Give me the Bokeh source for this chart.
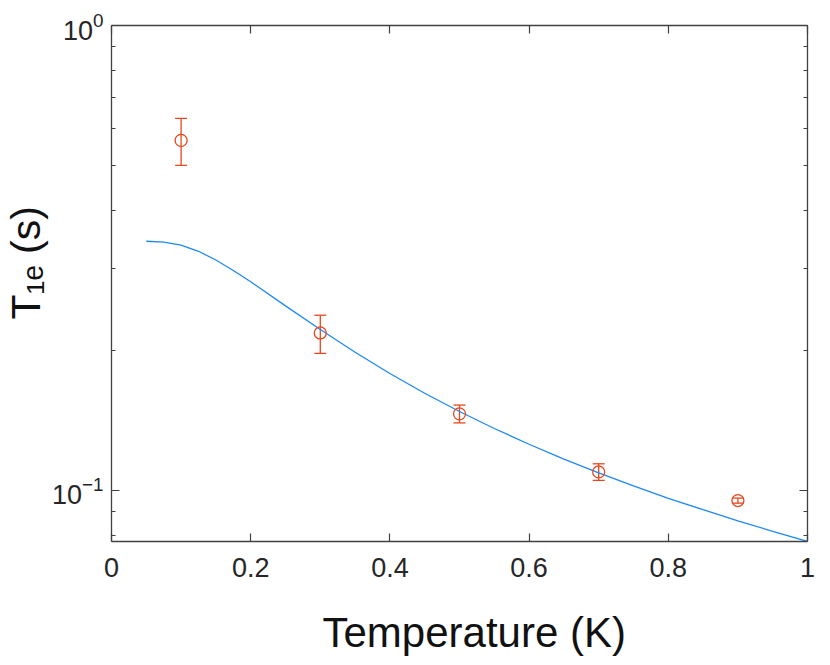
from bokeh.plotting import figure
from bokeh.models import (ColumnDataSource, Whisker, TeeHead, Title, LinearAxis, LogAxis,
                          FixedTicker, NumeralTickFormatter, CustomJSTickFormatter, LogTickFormatter)
from bokeh.embed import file_html
from bokeh.resources import INLINE

# measured data (temperature in K, T1e in s)
temp = [0.1, 0.3, 0.5, 0.7, 0.9]
t1e = [0.566, 0.218, 0.1460, 0.1095, 0.0950]
t1e_upper = [0.631, 0.238, 0.1525, 0.1140, 0.0962]
t1e_lower = [0.500, 0.197, 0.1396, 0.1050, 0.0938]

# model curve
curve_temp = [0.05, 0.075, 0.1, 0.125, 0.15, 0.175, 0.2, 0.25, 0.3, 0.35, 0.4, 0.45,
              0.5, 0.55, 0.6, 0.65, 0.7, 0.75, 0.8, 0.85, 0.9, 0.95, 1.0]
curve_t1e = [0.3434, 0.3420, 0.3367, 0.3267, 0.3129, 0.2971, 0.2809, 0.2493, 0.2217,
             0.1981, 0.1783, 0.1617, 0.1477, 0.1358, 0.1256, 0.1167, 0.1090, 0.1022,
             0.0961, 0.0908, 0.0859, 0.0816, 0.0776]

x_ticks = [0, 0.2, 0.4, 0.6, 0.8, 1.0]
y_ticks = [0.1, 1.0]
y_minor = [0.08, 0.09, 0.2, 0.3, 0.4, 0.5, 0.6, 0.7, 0.8, 0.9]

FONT = "Liberation Sans"
AX = "#404040"
RED = "#e8471e"
BLUE = "#1e88f5"

p = figure(frame_width=696, frame_height=516, x_range=(0, 1), y_range=(0.07757, 1.0),
           y_axis_type="log", output_backend="svg", toolbar_location=None,
           min_border_left=111, min_border_right=20, min_border_top=25, min_border_bottom=120)
p.xgrid.visible = False
p.ygrid.visible = False
p.outline_line_color = None
p.background_fill_color = "white"


def style(ax):
    ax.axis_line_color = AX
    ax.axis_line_width = 1.3
    ax.major_tick_line_color = AX
    ax.minor_tick_line_color = AX
    ax.major_tick_line_width = 1.2
    ax.minor_tick_line_width = 1.2
    ax.major_tick_in = 8
    ax.major_tick_out = 0
    ax.minor_tick_in = 4
    ax.minor_tick_out = 0
    ax.major_label_text_font = FONT
    ax.major_label_text_font_size = "27px"
    ax.major_label_text_color = "#262626"


xa = p.xaxis[0]
style(xa)
xa.ticker = FixedTicker(ticks=x_ticks)
xa.formatter = NumeralTickFormatter(format="0.[0]")
xa.major_label_standoff = 16

ya = p.yaxis[0]
style(ya)
ya.ticker = FixedTicker(ticks=y_ticks, minor_ticks=y_minor)
ya.formatter = LogTickFormatter()
ya.major_label_standoff = 8

blank = CustomJSTickFormatter(code="return ''")
top = LinearAxis(ticker=FixedTicker(ticks=x_ticks), formatter=blank)
style(top)
top.major_label_text_font_size = "0px"
top.major_label_standoff = 0
p.add_layout(top, "above")

right = LogAxis(ticker=FixedTicker(ticks=y_ticks, minor_ticks=y_minor), formatter=blank)
style(right)
right.major_label_text_font_size = "0px"
right.major_label_standoff = 0
p.add_layout(right, "right")

# curve
p.line(curve_temp, curve_t1e, line_color=BLUE, line_width=1.3)

# error bars
src = ColumnDataSource(dict(x=temp, y=t1e, upper=t1e_upper, lower=t1e_lower))
wh = Whisker(source=src, base="x", upper="upper", lower="lower", dimension="height",
             line_color=RED, line_width=1.3,
             upper_head=TeeHead(size=12, line_color=RED, line_width=1.3),
             lower_head=TeeHead(size=12, line_color=RED, line_width=1.3))
p.add_layout(wh)
p.scatter("x", "y", source=src, marker="circle", size=12, fill_color=None,
          line_color=RED, line_width=1.3)

# axis titles
p.add_layout(Title(text="Temperature (K)", align="left", offset=211, standoff=54,
                   text_font=FONT, text_font_size="42px", text_font_style="normal",
                   text_color="#111111"), "below")
p.add_layout(Title(text="T\u2081\u2091 (s)", align="left", offset=222, standoff=0,
                   text_font=FONT, text_font_size="41px", text_font_style="normal",
                   text_color="#111111"), "left")

open("out.html", "w").write(file_html(p, INLINE))
